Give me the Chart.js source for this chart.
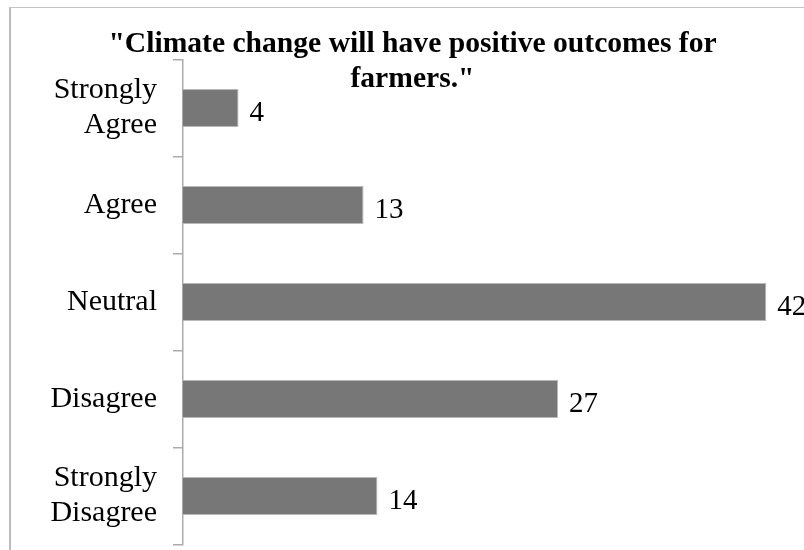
<!DOCTYPE html>
<html>
<head>
<meta charset="utf-8">
<script src="https://cdn.jsdelivr.net/npm/chart.js@4"></script>
<style>
  html, body { margin: 0; padding: 0; background: #fff; overflow: hidden; }
  .page { position: relative; width: 804px; height: 550px; overflow: hidden; }
  .frame {
    position: absolute; left: 9px; top: 7px; width: 800px; height: 550px;
    border-top: 1px solid #c4c4c4; border-left: 2px solid #bcbcbc;
  }
  .chart-box { position: absolute; left: 0; top: 0; width: 808px; height: 550px; }
</style>
</head>
<body>
<div class="page">
  <div class="frame"></div>
  <div class="chart-box"><canvas id="chart"></canvas></div>
</div>
<script>
  const categories = [
    ["Strongly", "Agree"],
    "Agree",
    "Neutral",
    "Disagree",
    ["Strongly", "Disagree"],
  ];
  const responses = [4, 13, 42, 27, 14];
  const titleLines = ['"Climate change will have positive outcomes for', 'farmers."'];

  const serif = "'Liberation Serif', 'Times New Roman', serif";

  // two-line heading that sits over the top of the plot
  const headingPlugin = {
    id: "heading",
    afterDraw(chart) {
      const ctx = chart.ctx;
      ctx.save();
      ctx.font = "bold 29.6px " + serif;
      ctx.fillStyle = "#000";
      ctx.textAlign = "center";
      ctx.textBaseline = "alphabetic";
      ctx.fillText(titleLines[0], 412.5, 52);
      ctx.fillText(titleLines[1], 412.5, 87);
      ctx.restore();
    },
  };

  // value printed just past the end of each bar
  const valueLabels = {
    id: "valueLabels",
    afterDatasetsDraw(chart) {
      const ctx = chart.ctx;
      const meta = chart.getDatasetMeta(0);
      ctx.save();
      ctx.font = "29px " + serif;
      ctx.fillStyle = "#000";
      ctx.textAlign = "left";
      ctx.textBaseline = "alphabetic";
      meta.data.forEach((bar, i) => {
        ctx.fillText(String(responses[i]), bar.x + 11, bar.y + 13);
      });
      ctx.restore();
    },
  };

  new Chart(document.getElementById("chart"), {
    type: "bar",
    data: {
      labels: categories,
      datasets: [
        {
          data: responses,
          backgroundColor: "#777777",
          borderColor: "#b8b8b8",
          borderWidth: 1,
          barPercentage: 0.39,
          categoryPercentage: 1,
        },
      ],
    },
    options: {
      indexAxis: "y",
      responsive: true,
      maintainAspectRatio: false,
      animation: false,
      layout: { padding: { top: 59.5, bottom: 5.5, left: 0, right: 0 } },
      plugins: {
        legend: { display: false },
        title: { display: false },
        tooltip: { enabled: false },
      },
      scales: {
        x: { display: false, min: 0, max: 45 },
        y: {
          offset: true,
          afterFit(scale) {
            scale.width = 183;
            // labels may hang past the ends of the axis
            scale.paddingTop = 0;
            scale.paddingBottom = 0;
          },
          grid: {
            offset: true,
            drawOnChartArea: false,
            drawTicks: true,
            tickLength: 10,
            color: "#ababab",
            lineWidth: 1.5,
          },
          border: { display: true, color: "#ababab", width: 1.5 },
          ticks: {
            padding: 16,
            color: "#000",
            font: { family: serif, size: 30, lineHeight: 1.17 },
          },
        },
      },
    },
    plugins: [headingPlugin, valueLabels],
  });
</script>
</body>
</html>
